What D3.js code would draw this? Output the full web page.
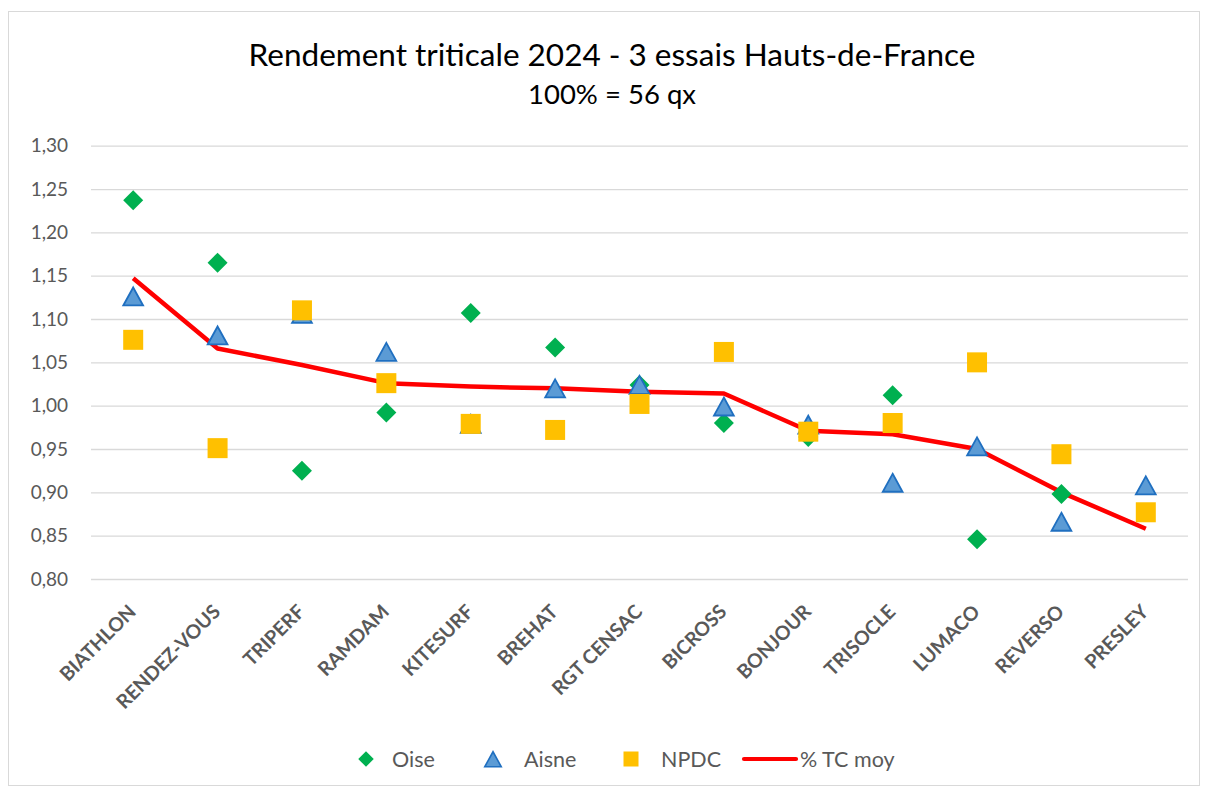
<!DOCTYPE html>
<html><head><meta charset="utf-8">
<script src="https://cdn.jsdelivr.net/npm/d3@7"></script>
<style>body{margin:0;background:#fff;} svg{display:block;}</style>
</head><body>
<svg id="c" width="1205" height="787"></svg>
<script>
const categories = ["BIATHLON","RENDEZ-VOUS","TRIPERF","RAMDAM","KITESURF","BREHAT","RGT CENSAC","BICROSS","BONJOUR","TRISOCLE","LUMACO","REVERSO","PRESLEY"];
const oise  = [1.237,1.165,0.925,0.992,1.107,1.067,1.024,0.980,0.964,1.012,0.846,0.898,null];
const aisne = [1.125,1.080,1.105,1.061,0.978,1.019,1.023,0.998,0.977,0.910,0.952,0.865,0.907];
const npdc  = [1.076,0.951,1.110,1.026,0.979,0.972,1.002,1.062,0.970,0.980,1.050,0.944,0.877];
const tcMoy = [1.147,1.066,1.047,1.026,1.022,1.020,1.016,1.014,0.971,0.967,0.950,0.900,0.858];
const yTicks = [0.80,0.85,0.90,0.95,1.00,1.05,1.10,1.15,1.20,1.25,1.30];
const title = "Rendement triticale 2024 - 3 essais Hauts-de-France";
const subtitle = "100% = 56 qx";
const legendLabels = ["Oise","Aisne","NPDC","% TC moy"];

const svg = d3.select("#c");
const font = "Lato, 'Open Sans', sans-serif";
const txt = "#595959";

// chart border
svg.append("rect").attr("x",8.5).attr("y",11.5).attr("width",1191).attr("height",774)
  .attr("fill","#fff").attr("stroke","#d9d9d9").attr("stroke-width",1);

const pL = 91, pR = 1188, pT = 145.7, pB = 579;
const x = d3.scaleBand().domain(categories).range([pL,pR]);
const y = d3.scaleLinear().domain([0.80,1.30]).range([pB,pT]);
const cx = c => x(c) + x.bandwidth()/2;

// gridlines + y labels
const yAxis = d3.axisLeft(y).tickValues(yTicks).tickSize(-(pR-pL)).tickPadding(23)
  .tickFormat(d => d3.format(".2f")(d).replace(".",","));
const gy = svg.append("g").attr("transform",`translate(${pL},0)`).call(yAxis);
gy.select(".domain").remove();
gy.selectAll(".tick line").attr("stroke","#d9d9d9").attr("stroke-width",1.3);
gy.selectAll(".tick text").attr("fill",txt).attr("font-family",font).attr("font-size",19);

// x labels
const xAxis = d3.axisBottom(x).tickSize(0).tickPadding(0);
const gx = svg.append("g").attr("transform",`translate(0,${pB})`).call(xAxis);
gx.select(".domain").remove();
gx.selectAll(".tick text")
  .attr("text-anchor","end").attr("dy",0).attr("y",0)
  .attr("transform","translate(4,34) rotate(-45)")
  .attr("fill",txt).attr("font-family",font).attr("font-weight","bold").attr("font-size",19.5);

// line
const line = d3.line().x((d,i)=>cx(categories[i])).y(d=>y(d));
svg.append("path").datum(tcMoy).attr("d",line).attr("fill","none")
  .attr("stroke","#ff0000").attr("stroke-width",4.5).attr("stroke-linejoin","round");

const diamond = d3.symbol().type(d3.symbolSquare).size(200)();
function triPath(s){ const h=s; return `M0,${-h*0.55}L${h*0.55},${h*0.45}L${-h*0.55},${h*0.45}Z`; }

// Oise
svg.append("g").selectAll("path").data(oise.map((v,i)=>({v,c:categories[i]})).filter(d=>d.v!=null))
  .join("path").attr("d",diamond)
  .attr("transform",d=>`translate(${cx(d.c)},${y(d.v)}) rotate(45)`)
  .attr("fill","#00b050");
// Aisne
svg.append("g").selectAll("path").data(aisne.map((v,i)=>({v,c:categories[i]})).filter(d=>d.v!=null))
  .join("path").attr("d",triPath(18))
  .attr("transform",d=>`translate(${cx(d.c)},${y(d.v)})`)
  .attr("fill","#5b9bd5").attr("stroke","#1f6fc0").attr("stroke-width",1.8).attr("stroke-linejoin","miter");
// NPDC
svg.append("g").selectAll("rect").data(npdc.map((v,i)=>({v,c:categories[i]})).filter(d=>d.v!=null))
  .join("rect").attr("x",d=>cx(d.c)-10).attr("y",d=>y(d.v)-10).attr("width",20).attr("height",20)
  .attr("fill","#ffc000");

// title
svg.append("text").attr("x",612).attr("y",66).attr("text-anchor","middle")
  .attr("font-family",font).attr("font-size",31.5).attr("fill","#000").text(title);
svg.append("text").attr("x",612).attr("y",104).attr("text-anchor","middle")
  .attr("font-family",font).attr("font-size",27.5).attr("fill","#000").text(subtitle);

// legend
const ly = 759;
const lg = svg.append("g");
lg.append("path").attr("d",d3.symbol().type(d3.symbolSquare).size(121)()).attr("transform",`translate(366,${ly}) rotate(45)`).attr("fill","#00b050");
lg.append("text").attr("x",392).attr("y",ly+8).text(legendLabels[0]);
lg.append("path").attr("d",triPath(15)).attr("transform",`translate(493,${ly+1})`).attr("fill","#5b9bd5").attr("stroke","#1f6fc0").attr("stroke-width",1.6);
lg.append("text").attr("x",524).attr("y",ly+8).text(legendLabels[1]);
lg.append("rect").attr("x",623.5).attr("y",ly-7.5).attr("width",15).attr("height",15).attr("fill","#ffc000");
lg.append("text").attr("x",661).attr("y",ly+8).text(legendLabels[2]);
lg.append("line").attr("x1",744).attr("x2",796).attr("y1",ly).attr("y2",ly).attr("stroke","#ff0000").attr("stroke-width",4.2).attr("stroke-linecap","round");
lg.append("text").attr("x",800).attr("y",ly+8).text(legendLabels[3]);
lg.selectAll("text").attr("font-family",font).attr("font-size",21.5).attr("fill",txt);
</script>
</body></html>
